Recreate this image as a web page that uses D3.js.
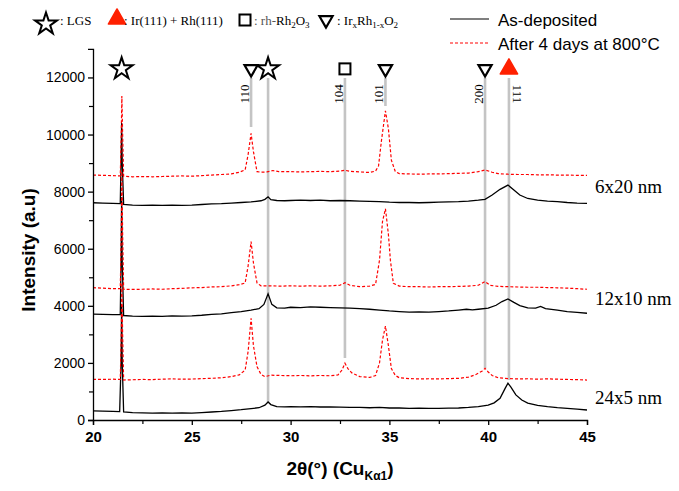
<!DOCTYPE html>
<html><head><meta charset="utf-8">
<script src="https://cdn.jsdelivr.net/npm/d3@7/dist/d3.min.js"></script>
<style>body{margin:0;background:#fff}svg{display:block}</style>
</head><body><svg id="c" width="679" height="491"></svg>
<script>
// ---- data ----
const samples = ["24x5 nm", "12x10 nm", "6x20 nm"];
const bk24 = [[20,320],[20.5,310],[21,300],[21.35,295],[21.42,2000],[21.45,4000],[21.48,2000],[21.55,280],[22,260],[22.5,250],[23,240],[23.5,245],[24,240],[24.5,250],[25,240],[25.5,260],[26,280],[26.5,300],[27,330],[27.5,360],[28,400],[28.4,430],[28.7,520],[28.86,630],[29.0,540],[29.3,470],[29.7,460],[30,470],[30.5,460],[31,470],[31.5,455],[32,460],[32.5,450],[33,440],[33.5,445],[34,430],[34.5,440],[35,420],[35.5,420],[36,410],[36.5,415],[37,405],[37.5,410],[38,415],[38.5,420],[39,440],[39.5,470],[40,520],[40.3,600],[40.6,760],[40.85,1100],[41.0,1290],[41.15,1150],[41.4,880],[41.7,700],[42,590],[42.5,510],[43,465],[43.5,430],[44,410],[44.5,380],[45,350]];
const rd24 = [[20,1425],[20.5,1420],[21,1430],[21.38,1420],[21.43,3000],[21.46,4800],[21.5,3000],[21.55,1400],[22,1410],[22.5,1420],[23,1415],[23.5,1430],[24,1440],[24.5,1430],[25,1435],[25.5,1450],[26,1460],[26.5,1480],[27,1520],[27.4,1580],[27.7,1750],[27.85,2400],[28.0,3560],[28.12,2600],[28.3,1870],[28.5,1600],[28.7,1520],[29,1570],[29.5,1560],[30,1550],[30.5,1560],[31,1545],[31.5,1560],[32,1550],[32.4,1580],[32.6,1750],[32.75,1990],[32.9,1800],[33.1,1650],[33.5,1520],[34,1490],[34.3,1560],[34.5,2000],[34.65,2800],[34.8,3290],[34.95,2600],[35.1,1800],[35.3,1560],[35.5,1480],[36,1450],[36.5,1440],[37,1445],[37.5,1440],[38,1450],[38.5,1460],[39,1500],[39.4,1600],[39.7,1720],[39.84,1810],[40.0,1680],[40.2,1560],[40.5,1480],[41,1450],[41.5,1440],[42,1445],[42.5,1430],[43,1440],[43.5,1430],[44,1420],[44.5,1415],[45,1400]];
const bk12 = [[20,3710],[20.5,3700],[21,3690],[21.38,3690],[21.42,5500],[21.45,7800],[21.48,5500],[21.55,3660],[22,3640],[22.5,3630],[23,3640],[23.5,3630],[24,3650],[24.5,3640],[25,3650],[25.5,3670],[26,3700],[26.5,3720],[27,3760],[27.5,3800],[28,3850],[28.4,3900],[28.65,4050],[28.86,4420],[29.05,4050],[29.3,3930],[29.7,3920],[30,3950],[30.5,3940],[31,3960],[31.5,3950],[32,3940],[32.5,3930],[33,3920],[33.5,3900],[34,3880],[34.5,3850],[35,3820],[35.5,3800],[36,3780],[36.5,3790],[37,3780],[37.5,3800],[38,3820],[38.5,3850],[38.9,3880],[39.2,3860],[39.5,3880],[40,3920],[40.4,4020],[40.7,4150],[41.0,4240],[41.3,4120],[41.6,4010],[42,3930],[42.4,3920],[42.65,3980],[42.9,3900],[43.5,3850],[44,3800],[44.5,3770],[45,3740]];
const rd12 = [[20,4635],[20.5,4620],[21,4600],[21.38,4600],[21.43,6500],[21.46,8700],[21.5,6500],[21.55,4580],[22,4575],[22.5,4580],[23,4590],[23.5,4580],[24,4600],[24.5,4610],[25,4630],[25.5,4640],[26,4660],[26.5,4670],[27,4700],[27.4,4740],[27.7,4800],[27.85,5400],[28.0,6250],[28.12,5500],[28.3,4800],[28.5,4700],[29,4700],[29.5,4690],[30,4700],[30.5,4690],[31,4700],[31.5,4690],[32,4700],[32.5,4720],[32.75,4810],[33,4720],[33.5,4670],[34,4690],[34.3,4750],[34.5,5600],[34.65,6950],[34.8,7400],[34.95,6500],[35.05,5600],[35.2,4790],[35.5,4690],[36,4670],[36.5,4670],[37,4660],[37.5,4670],[38,4670],[38.5,4680],[39,4690],[39.5,4720],[39.84,4850],[40.1,4720],[40.5,4680],[41,4670],[41.5,4660],[42,4650],[42.5,4650],[43,4640],[43.5,4630],[44,4620],[44.5,4600],[45,4580]];
const bk6 = [[20,7610],[20.5,7600],[21,7590],[21.38,7580],[21.42,9000],[21.45,10400],[21.48,9000],[21.55,7550],[22,7530],[22.5,7520],[23,7530],[23.5,7520],[24,7530],[24.5,7520],[25,7530],[25.5,7550],[26,7570],[26.5,7580],[27,7600],[27.5,7620],[28,7640],[28.5,7680],[28.7,7730],[28.86,7820],[29.0,7720],[29.3,7690],[29.7,7680],[30,7690],[30.5,7700],[31,7690],[31.5,7700],[32,7680],[32.5,7690],[33,7680],[33.5,7670],[34,7660],[34.5,7650],[35,7630],[35.5,7620],[36,7620],[36.5,7610],[37,7620],[37.5,7630],[38,7640],[38.5,7650],[39,7670],[39.5,7700],[39.84,7730],[40.2,7880],[40.6,8080],[41.0,8230],[41.3,8060],[41.6,7880],[42,7760],[42.5,7700],[43,7670],[43.5,7650],[44,7620],[44.5,7600],[45,7590]];
const rd6 = [[20,8580],[20.5,8570],[21,8560],[21.38,8550],[21.43,10000],[21.46,11350],[21.5,10000],[21.55,8540],[22,8520],[22.5,8530],[23,8520],[23.5,8530],[24,8540],[24.5,8550],[25,8540],[25.5,8560],[26,8580],[26.5,8600],[27,8620],[27.4,8680],[27.7,8760],[27.85,9300],[28.0,10040],[28.12,9400],[28.3,8700],[28.5,8680],[28.8,8690],[29.1,8740],[29.4,8700],[30,8700],[30.5,8690],[31,8700],[31.5,8710],[32,8700],[32.5,8720],[32.75,8750],[33,8710],[33.5,8690],[34,8670],[34.3,8720],[34.45,8900],[34.6,9800],[34.8,10830],[34.95,10200],[35.1,9100],[35.3,8700],[35.5,8630],[36,8620],[36.5,8610],[37,8620],[37.5,8620],[38,8630],[38.5,8640],[39,8650],[39.5,8700],[39.84,8760],[40.2,8680],[40.5,8630],[41,8610],[41.5,8600],[42,8600],[42.5,8590],[43,8590],[43.5,8580],[44,8580],[44.5,8570],[45,8570]];
const asDeposited = [bk24, bk12, bk6];
const annealed = [rd24, rd12, rd6];
const sampleLabelLevel = [800, 4270, 8200];
// reference lines: position, hkl label, marker, bottom intensity
const refPos = [21.45, 28.0, 28.86, 32.75, 34.8, 39.84, 41.05];
const refHkl = ["", "110", "", "104", "101", "200", "111"];
const refMark = ["star", "tridown", "star", "square", "tridown", "tridown", "triup"];
const refBottom = [null, 10264, 600, 2170, 11000, 1820, 1400];
const refTop = 11980;
const markerLevel = 12300;
const xTicks = [20, 25, 30, 35, 40, 45];
const yTicks = [0, 2000, 4000, 6000, 8000, 10000, 12000];

// ---- chart ----
const svg = d3.select("#c");
const x = d3.scaleLinear().domain([20, 45]).range([93, 587]);
const y = d3.scaleLinear().domain([0, 13000]).range([420, 48.9]);
const sans = "'Liberation Sans', Arial, sans-serif";
const serif = "'Liberation Serif', 'Times New Roman', serif";

// gray reference lines
refPos.forEach((p, i) => {
  if (refBottom[i] == null) return;
  svg.append("line").attr("x1", x(p)).attr("x2", x(p))
    .attr("y1", y(refTop)).attr("y2", y(refBottom[i]))
    .attr("stroke", "#c4c4c4").attr("stroke-width", 2.6);
});

const line = d3.line().x(d => x(d[0])).y(d => y(d[1]));
asDeposited.forEach(s => svg.append("path").attr("d", line(s)).attr("fill", "none")
  .attr("stroke", "#000").attr("stroke-width", 1.3));
annealed.forEach(s => svg.append("path").attr("d", line(s)).attr("fill", "none")
  .attr("stroke", "#ff0000").attr("stroke-width", 1.2).attr("stroke-dasharray", "3,2"));

// axes
const xAxis = d3.axisBottom(x).tickValues(xTicks).tickSize(5).tickFormat(d3.format("d"));
const gx = svg.append("g").attr("transform", "translate(0,420)").call(xAxis);
gx.select(".domain").attr("stroke-width", 1.3);
gx.selectAll(".tick line").attr("stroke-width", 1.3);
gx.selectAll("text").attr("font-family", sans).attr("font-size", 15).attr("font-weight", "bold").attr("fill", "#000").attr("dy", "0.9em");
const gxm = svg.append("g").attr("transform", "translate(0,420)")
  .call(d3.axisBottom(x).tickValues([22.5, 27.5, 32.5, 37.5, 42.5]).tickSize(4).tickFormat(""));
gxm.select(".domain").remove();
gxm.selectAll(".tick line").attr("stroke-width", 1.2);

const yAxis = d3.axisLeft(y).tickValues(yTicks).tickSize(5).tickFormat(d3.format("d"));
const gy = svg.append("g").attr("transform", "translate(93,0)").call(yAxis);
gy.select(".domain").attr("stroke-width", 1.3);
gy.selectAll(".tick line").attr("stroke-width", 1.3);
gy.selectAll("text").attr("font-family", sans).attr("font-size", 14).attr("fill", "#000");
const gym = svg.append("g").attr("transform", "translate(93,0)")
  .call(d3.axisLeft(y).tickValues([1000, 3000, 5000, 7000, 9000, 11000]).tickSize(4).tickFormat(""));
gym.select(".domain").remove();
gym.selectAll(".tick line").attr("stroke-width", 1.2);

// axis titles
const xt = svg.append("text").attr("x", 340).attr("y", 475).attr("text-anchor", "middle")
  .attr("font-family", sans).attr("font-size", 19).attr("font-weight", "bold");
xt.append("tspan").text("2θ(°) (Cu");
xt.append("tspan").attr("font-size", 12).attr("dy", 5).text("Kα1");
xt.append("tspan").attr("dy", -5).text(")");
svg.append("text").attr("transform", "translate(35,250) rotate(-90)").attr("text-anchor", "middle")
  .attr("font-family", sans).attr("font-size", 19).attr("font-weight", "bold").text("Intensity (a.u)");

// markers
function drawMarker(kind, cx, cy, scale) {
  scale = scale || 1;
  if (kind === "star") {
    svg.append("path").attr("d", d3.symbol(d3.symbolStar, 150 * scale)())
      .attr("transform", `translate(${cx},${cy})`).attr("fill", "#fff").attr("stroke", "#000").attr("stroke-width", 2);
  } else if (kind === "tridown") {
    svg.append("path").attr("d", d3.symbol(d3.symbolTriangle, 75 * scale)())
      .attr("transform", `translate(${cx},${cy}) rotate(180)`).attr("fill", "#fff").attr("stroke", "#000").attr("stroke-width", 2.2);
  } else if (kind === "triup") {
    svg.append("path").attr("d", d3.symbol(d3.symbolTriangle, 130 * scale)())
      .attr("transform", `translate(${cx},${cy})`).attr("fill", "#ff2000").attr("stroke", "#ff2000").attr("stroke-width", 1.5).attr("stroke-linejoin", "round");
  } else if (kind === "square") {
    const s = 11 * Math.sqrt(scale);
    svg.append("rect").attr("x", cx - s / 2).attr("y", cy - s / 2).attr("width", s).attr("height", s)
      .attr("fill", "#fff").attr("stroke", "#000").attr("stroke-width", 2);
  }
}
refPos.forEach((p, i) => {
  drawMarker(refMark[i], x(p), y(markerLevel));
  if (refHkl[i]) {
    const right = refHkl[i] === "111";
    const lx = x(p) + (right ? 9 : -7);
    svg.append("text").attr("transform", `translate(${lx},${y(markerLevel) + 25}) rotate(${right ? 90 : -90})`)
      .attr("text-anchor", "middle").attr("dy", "0.35em")
      .attr("font-family", serif).attr("font-size", 13).text(refHkl[i]);
  }
});

// sample labels
samples.forEach((s, i) => {
  svg.append("text").attr("x", 595).attr("y", y(sampleLabelLevel[i]) + 7)
    .attr("font-family", serif).attr("font-size", 19).text(s);
});

// legend (top left)
drawMarker("star", 46, 24);
function legText(xp, parts, fill) {
  const t = svg.append("text").attr("x", xp).attr("y", 25).attr("font-family", serif).attr("font-size", 13).attr("fill", fill || "#000");
  parts.forEach(p => {
    const ts = t.append("tspan").text(p[0]);
    if (p[1]) ts.attr("dy", p[1]).attr("font-size", p[2] || 13);
  });
  return t;
}
legText(60, [[": LGS"]]);
drawMarker("triup", 117, 19);
legText(124, [[": Ir(111) + Rh(111)"]]);
drawMarker("square", 245, 20);
const t3 = svg.append("text").attr("x", 254).attr("y", 25).attr("font-family", serif).attr("font-size", 13);
t3.append("tspan").attr("fill", "#555").text(": rh-");
t3.append("tspan").text("Rh");
t3.append("tspan").attr("dy", 3).attr("font-size", 9).text("2");
t3.append("tspan").attr("dy", -3).text("O");
t3.append("tspan").attr("dy", 3).attr("font-size", 9).text("3");
drawMarker("tridown", 326, 20);
const t4 = svg.append("text").attr("x", 337).attr("y", 25).attr("font-family", serif).attr("font-size", 13);
t4.append("tspan").text(": Ir");
t4.append("tspan").attr("dy", 3).attr("font-size", 9).text("x");
t4.append("tspan").attr("dy", -3).text("Rh");
t4.append("tspan").attr("dy", 3).attr("font-size", 9).text("1-x");
t4.append("tspan").attr("dy", -3).text("O");
t4.append("tspan").attr("dy", 3).attr("font-size", 9).text("2");

// legend (top right)
svg.append("line").attr("x1", 450).attr("x2", 489).attr("y1", 19).attr("y2", 19).attr("stroke", "#555").attr("stroke-width", 1.4);
svg.append("text").attr("x", 498).attr("y", 26).attr("font-family", sans).attr("font-size", 17).text("As-deposited");
svg.append("line").attr("x1", 450).attr("x2", 489).attr("y1", 43).attr("y2", 43).attr("stroke", "#ff0000").attr("stroke-width", 1).attr("stroke-dasharray", "3,2");
svg.append("text").attr("x", 498).attr("y", 50).attr("font-family", sans).attr("font-size", 17).text("After 4 days at 800°C");
</script></body></html>
